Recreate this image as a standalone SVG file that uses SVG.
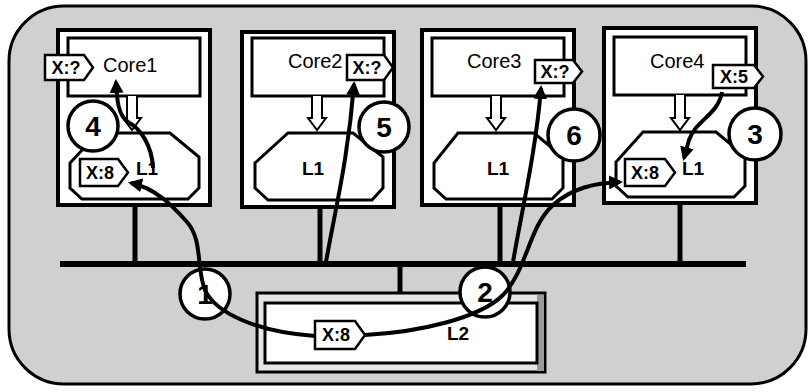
<svg xmlns="http://www.w3.org/2000/svg" width="809" height="392" viewBox="0 0 809 392">
<style>
.bg{fill:#d0d0d0;stroke:#000;stroke-width:3}
.box{fill:#fff;stroke:#000;stroke-width:4}
.core{fill:#fff;stroke:#000;stroke-width:3}
.l1{fill:#fff;stroke:#000;stroke-width:3}
.hol{fill:#fff;stroke:#000;stroke-width:2}
.lbl{font-family:"Liberation Sans",Arial,sans-serif;font-size:20px;fill:#000}
.l1t{font-family:"Liberation Sans",Arial,sans-serif;font-size:19px;font-weight:bold;fill:#000}
.tag{fill:#fff;stroke:#000;stroke-width:2.5}
.tagt{font-family:"Liberation Sans",Arial,sans-serif;font-size:18px;font-weight:bold;fill:#000;text-anchor:middle}
.num{fill:#fff;stroke:#000;stroke-width:3.5}
.numt{font-family:"Liberation Sans",Arial,sans-serif;font-size:28px;font-weight:bold;fill:#000;text-anchor:middle}
.bus{stroke:#000;stroke-width:6;fill:none}
.drop{stroke:#000;stroke-width:5;fill:none}
.arr{stroke:#000;stroke-width:4;fill:none;marker-end:url(#ah)}
</style>
<defs>
<marker id="ah" markerUnits="userSpaceOnUse" markerWidth="14" markerHeight="14" refX="11" refY="7" orient="auto">
<path d="M0,0 L14,7 L0,14 z" fill="#000"/>
</marker>
</defs>
<rect class="bg" x="9" y="6" width="797" height="378" rx="55" ry="55"/>
<g id="bus">
<path class="bus" d="M60,264 H746"/>
<path class="drop" d="M135,205 V264 M320,207 V264 M500,205 V264 M680,203 V264 M400,264 V294"/>
</g>
<g id="core1">
<rect class="box" x="58" y="30" width="152" height="175"/>
<rect class="core" x="68" y="38" width="132" height="58"/>
<path class="hol" d="M127,96 V118 H123 L132,130 L141,118 H137 V96"/>
<path class="l1" d="M98,133 H170 L199,157 V188 L188,199 H82 L70,188 V163 Z"/>
<text class="lbl" x="103" y="72">Core1</text>
<text class="l1t" x="136" y="175">L1</text>
</g>
<g id="core2">
<rect class="box" x="242" y="32" width="152" height="175"/>
<rect class="core" x="252" y="38" width="132" height="58"/>
<path class="hol" d="M312,96 V118 H308 L317,130 L326,118 H322 V96"/>
<path class="l1" d="M288,133 H353 L383,157 V188 L372,200 H268 L255,188 V163 Z"/>
<text class="lbl" x="288" y="68">Core2</text>
<text class="l1t" x="302" y="175">L1</text>
</g>
<g id="core3">
<rect class="box" x="422" y="30" width="152" height="175"/>
<rect class="core" x="432" y="38" width="132" height="58"/>
<path class="hol" d="M491,96 V118 H487 L496,130 L505,118 H501 V96"/>
<path class="l1" d="M458,133 H534 L563,157 V188 L552,199 H446 L434,188 V163 Z"/>
<text class="lbl" x="467" y="68">Core3</text>
<text class="l1t" x="487" y="175">L1</text>
</g>
<g id="core4">
<rect class="box" x="604" y="28" width="152" height="175"/>
<rect class="core" x="614" y="37" width="132" height="58"/>
<path class="hol" d="M675,95 V118 H671 L680,130 L689,118 H685 V95"/>
<path class="l1" d="M643,132 H716 L745,156 V186 L734,197 H628 L616,186 V162 Z"/>
<text class="lbl" x="650" y="68">Core4</text>
<text class="l1t" x="682" y="175">L1</text>
</g>
<g id="l2">
<rect x="257" y="293" width="288" height="79" fill="#e6e6e6" stroke="#000" stroke-width="3"/>
<rect x="537" y="295" width="7" height="76" fill="#9a9a9a"/>
<rect x="265" y="303" width="272" height="60" fill="#fff" stroke="#000" stroke-width="3"/>
<text class="l1t" x="447" y="340" font-size="21">L2</text>
</g>
<g id="circles">
<g id="c1"><circle class="num" cx="205" cy="294" r="25"/><text class="numt" x="205" y="304">1</text></g>
<g id="c2"><circle class="num" cx="485" cy="292" r="25"/><text class="numt" x="485" y="302">2</text></g>
<g id="c3"><circle class="num" cx="755" cy="134" r="26"/><text class="numt" x="755" y="144">3</text></g>
<g id="c4"><circle class="num" cx="93" cy="126" r="25"/><text class="numt" x="93" y="136">4</text></g>
<g id="c5"><circle class="num" cx="384" cy="127" r="25"/><text class="numt" x="384" y="137">5</text></g>
<g id="c6"><circle class="num" cx="574" cy="135" r="26"/><text class="numt" x="574" y="145">6</text></g>
</g>
<g id="connectors">
<path class="arr" d="M315,336 C255,332 215,312 205,290 C196,268 203,240 187,222 C172,205 155,188 131,183"/>
<path class="arr" d="M365,335 C420,332 480,318 503,295 C528,268 528,228 553,205 C572,188 595,183 620,182"/>
<path class="arr" d="M722,92 C718,115 696,120 689,140 L684,158"/>
<path class="arr" d="M153,168 C152,145 140,128 128,122 C118,115 117,100 116,82"/>
<path class="arr" d="M326,262 C335,210 348,160 354,84"/>
<path class="arr" d="M513,262 C522,210 536,150 541,88"/>
</g>
<g id="tags">
<g id="t1"><path class="tag" d="M45,55 H84 L93,67.5 L84,80 H45 Z"/><text class="tagt" x="66" y="74">X:?</text></g>
<g id="t2"><path class="tag" d="M347,55 H384 L393,67.5 L384,80 H347 Z"/><text class="tagt" x="367" y="74">X:?</text></g>
<g id="t3"><path class="tag" d="M535,60 H573 L582,71.5 L573,83 H535 Z"/><text class="tagt" x="555" y="78">X:?</text></g>
<g id="t4"><path class="tag" d="M713,65 H754 L763,76.5 L754,88 H713 Z"/><text class="tagt" x="734" y="83">X:5</text></g>
<g id="t5"><path class="tag" d="M80,159 H118 L128,172.5 L118,186 H80 Z"/><text class="tagt" x="100" y="179">X:8</text></g>
<g id="t6"><path class="tag" d="M625,159 H665 L675,172.5 L665,186 H625 Z"/><text class="tagt" x="645" y="179">X:8</text></g>
<g id="t7"><path class="tag" d="M315,321 H355 L365,335 L355,349 H315 Z"/><text class="tagt" x="336" y="341">X:8</text></g>
</g>
</svg>
